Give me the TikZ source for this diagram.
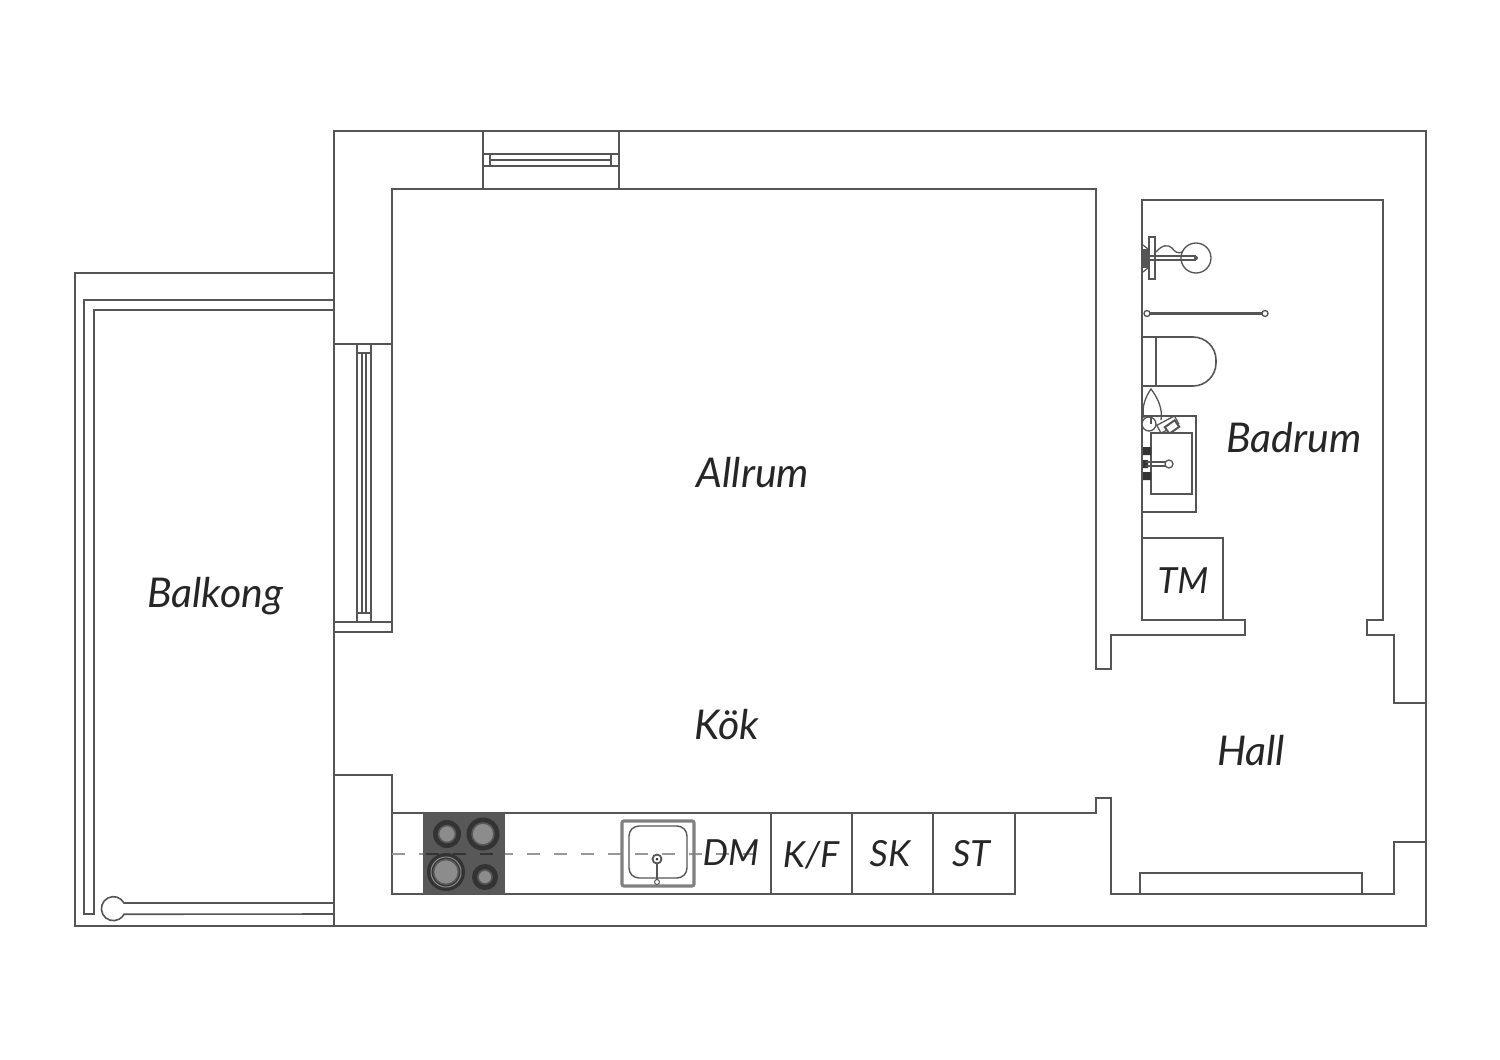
\documentclass[tikz,border=0pt]{standalone}
\usepackage{fontspec}
\setmainfont{Lato}
\definecolor{wallc}{HTML}{555555}
\definecolor{hobc}{HTML}{585858}
\definecolor{burnc}{HTML}{8C8C8C}
\definecolor{ringc}{HTML}{333333}
\tikzset{
  wall/.style={draw=wallc,line width=0.8pt,line join=miter},
  thin part/.style={draw=wallc,line width=0.65pt},
  room/.style={font=\itshape\fontsize{20.5}{20.5}\selectfont,text=black!85,inner sep=0pt},
  unit/.style={font=\itshape\fontsize{18}{18}\selectfont,text=black!85,inner sep=0pt},
  burner outer/.style={fill=ringc},
  burner inner/.style={fill=burnc,draw=hobc,line width=0.8pt},
  hood/.style={line width=0.9pt,dash pattern=on 6.7pt off 6.8pt}
}
\begin{document}
\begin{tikzpicture}[x=0.5pt,y=-0.5pt]
\useasboundingbox (0,0) rectangle (1500,1060);
% outer wall
\draw[wall] (334,131) -- (1426,131) -- (1426,926) -- (334,926) -- cycle;
% main room outline
\draw[wall] (392,344) -- (392,189) -- (1096,189) -- (1096,669) -- (1111,669) -- (1111,635) -- (1245,635) -- (1245,620) -- (1142,620) -- (1142,200) -- (1383,200) -- (1383,620) -- (1367,620) -- (1367,635) -- (1394,635) -- (1394,703) -- (1426,703);
\draw[wall] (1426,842) -- (1394,842) -- (1394,894) -- (1111,894) -- (1111,798) -- (1096,798) -- (1096,813) -- (392,813) -- (392,775) -- (334,775);
% balcony
\draw[wall] (334,273) -- (75,273) -- (75,926) -- (334,926);
\draw[wall] (334,300) -- (84,300) -- (84,914) -- (94,914) -- (94,310) -- (334,310);
\draw[wall] (334,903) -- (124,903) arc[start angle=-28,end angle=-332,radius=12] -- (334,914);
% left window
\draw[wall] (334,344) -- (392,344) -- (392,632) -- (334,632);
\draw[wall] (334,622) -- (392,622);
\draw[thin part] (357,344) -- (357,622) (371,344) -- (371,622) (357,353) -- (371,353) (357,613) -- (371,613) (362,353) -- (362,613) (366,353) -- (366,613);
% top window
\draw[thin part] (483,131) -- (483,189) (619,131) -- (619,189) (483,154) -- (619,154) (483,166) -- (619,166) (490,160) -- (611,160) (490,154) -- (490,166) (611,154) -- (611,166);
% kitchen counter
\draw[wall] (392,813) -- (392,894) -- (1015,894) -- (1015,813);
\draw[thin part] (771,813) -- (771,894) (852,813) -- (852,894) (933,813) -- (933,894);
% dashed hood line
\draw[hood,draw=gray!80] (392,854) -- (760,854);
% hob
\fill[hobc] (423,814) rectangle (505,894);
\draw[hood,draw=ringc] (426,854) -- (503,854);
\fill[burner outer] (447,834) circle[radius=14];
\draw[burner inner] (447,834) circle[radius=8.5];
\fill[burner outer] (483,834) circle[radius=16.5];
\draw[burner inner] (483,834) circle[radius=11];
\fill[burner outer] (446,872) circle[radius=19];
\draw[draw=burnc,line width=0.5pt] (446,872) circle[radius=15];
\draw[burner inner] (446,872) circle[radius=12.5];
\fill[burner outer] (485,877) circle[radius=13];
\draw[burner inner] (485,877) circle[radius=7];
% sink
\draw[draw=gray,line width=1.6pt,rounded corners=1pt] (622,821) rectangle (694,886);
\draw[draw=wallc,line width=0.7pt,rounded corners=5pt] (629,826) rectangle (687,878);
\draw[wallc,line width=0.9pt,fill=white] (657,859) circle[radius=4.5];
\fill[ringc] (657,859) circle[radius=1.5];
\draw[wallc,line width=1.1pt] (657,864) -- (657,880);
\draw[wallc,line width=0.5pt] (657,882) circle[radius=2.5];
% shower
\draw[thin part] (1196,258) circle[radius=15];
\draw[thin part] (1145,256) -- (1196,256) (1145,260) -- (1196,260);
\fill[wallc] (1196,258) circle[radius=2];
\draw[thin part] (1149,237) rectangle (1155,279);
\draw[thin part] (1156,252) .. controls (1162,245) and (1168,244) .. (1172,248) .. controls (1175,252) and (1178,254) .. (1182,252);
\fill[wallc] (1143,249) rectangle (1148,268);
\draw[thin part] (1143,245) -- (1148,249) (1143,272) -- (1148,268);
% rail
\draw[wallc,line width=1.1pt] (1146,313.5) -- (1265,313.5);
\draw[thin part,fill=white] (1147,313.5) circle[radius=3];
\draw[thin part,fill=white] (1265,313.5) circle[radius=3];
% toilet
\draw[wall] (1142,337) -- (1193,337) arc[start angle=-90,end angle=0,radius=23] -- (1216,363) arc[start angle=0,end angle=90,radius=23] -- (1142,386);
\draw[thin part] (1156,337) -- (1156,386);
% accessory
\draw[thin part] (1144,418) .. controls (1141,407) and (1146,396) .. (1151,389) .. controls (1157,397) and (1163,408) .. (1161,420);
\draw[thin part,fill=white] (1149,424) circle[radius=7];
\draw[wallc,line width=0.7pt] (1151,424) -- (1151,418);
% vanity
\draw[thin part] (1142,416) -- (1196,416) -- (1196,512) -- (1142,512);
\draw[thin part,fill=white,rotate around={28:(1168,425)}] (1158,420) rectangle (1178,429);
\draw[wallc,line width=1pt,fill=white,rotate around={35:(1172,427)}] (1166,423) rectangle (1178,431);
\draw[thin part,fill=white] (1151,433) rectangle (1192,494);
\fill[black!80] (1143,447) rectangle (1151,455) (1143,472) rectangle (1151,480) (1143,460) rectangle (1148,468);
\draw[thin part] (1146,462) -- (1166,462) (1146,466) -- (1166,466);
\draw[thin part,fill=white] (1169,464) circle[radius=4];
% TM
\draw[thin part] (1142,538) -- (1223,538) -- (1223,620);
% hall closet
\draw[thin part] (1140,894) -- (1140,873) -- (1362,873) -- (1362,894);
% labels
\node[room] (allrum) at (753,473) {Allrum};
\node[room] (kok) at (727,725) {Kök};
\node[room] (balkong) at (215,596) {Balkong};
\node[room] (badrum) at (1294,438) {Badrum};
\node[room] (hall) at (1251,751) {Hall};
\node[unit] (tm) at (1183,581) {TM};
\node[unit] (dm) at (731,853) {DM};
\node[unit] (kf) at (811,855) {K/F};
\node[unit] (sk) at (890,854) {SK};
\node[unit] (st) at (971,854) {ST};
\end{tikzpicture}
\end{document}
